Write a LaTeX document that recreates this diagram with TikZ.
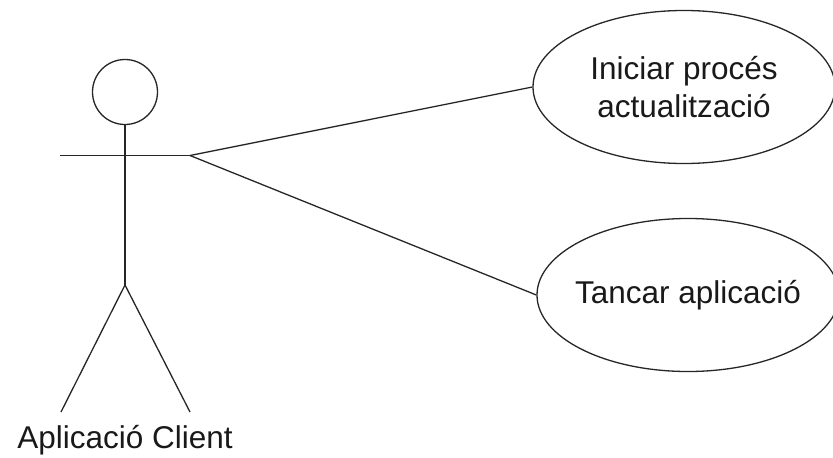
\documentclass[tikz,border=0pt]{standalone}
\usepackage{fontspec}
\setmainfont{Liberation Sans}
\usetikzlibrary{shapes.geometric}
\begin{document}
\begin{tikzpicture}[x=1pt,y=-1pt,
  stroke/.style={draw=black!85,line width=1.3pt},
  usecase/.style={ellipse,stroke,fill=white,inner xsep=-20pt,inner ysep=0pt,
    minimum width=302pt,minimum height=153pt,align=center,
    font=\fontsize{31.5}{38}\selectfont,text=black!90},
  headshape/.style={circle,stroke,inner sep=0pt,minimum size=65pt},
  lbl/.style={font=\fontsize{31.5}{38}\selectfont,text=black!90,inner sep=0pt}]
  \useasboundingbox (0,0) rectangle (833,458);

  % actor: stick figure
  \node[headshape] (head) at (125,92) {};
  \coordinate (hip) at (125,285);
  \coordinate (armL) at (60,155.5);
  \coordinate (armR) at (190,155.5);
  \coordinate (footL) at (61,412);
  \coordinate (footR) at (190,412);
  \draw[stroke] (head.south) -- (hip);
  \draw[stroke] (armL) -- (armR);
  \draw[stroke] (footL) -- (hip) -- (footR);
  \node[lbl,anchor=base] (actor) at (125,448) {Aplicació Client};

  % use cases
  \node[usecase] (uc1) at (684,87) {Iniciar procés\\actualització};
  \node[usecase] (uc2) at (688,295) {Tancar aplicació};

  % associations
  \draw[stroke] (armR) -- (uc1.west);
  \draw[stroke] (armR) -- (uc2.west);
\end{tikzpicture}
\end{document}
